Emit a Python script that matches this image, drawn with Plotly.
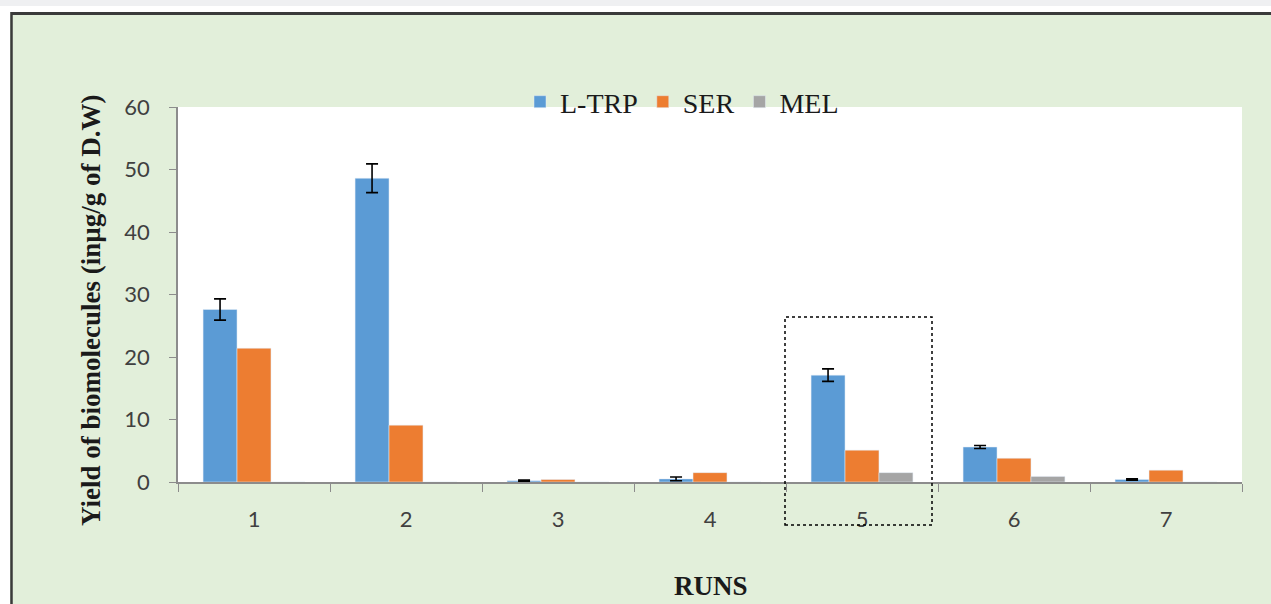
import plotly.graph_objects as go

runs = ["1", "2", "3", "4", "5", "6", "7"]
l_trp = [27.6, 48.6, 0.2, 0.5, 17.1, 5.6, 0.4]
l_trp_err = [1.7, 2.3, 0.1, 0.3, 1.0, 0.25, 0.1]
ser = [21.4, 9.1, 0.4, 1.5, 5.1, 3.8, 1.9]
mel = [0.0, 0.0, 0.0, 0.0, 1.5, 0.9, 0.0]

y_ticks = [0, 10, 20, 30, 40, 50, 60]

W, H = 1271, 604
L, R, T, B = 178, 29, 107, 122
pw, ph = W - L - R, H - T - B

def px(x):
    return (x - L) / pw

def py(y):
    return (H - B - y) / ph

SERIF = "Liberation Serif, Times New Roman, serif"
SANS = "Lato, Liberation Sans, sans-serif"

fig = go.Figure()
fig.add_trace(go.Bar(name="L-TRP", x=runs, y=l_trp, marker_color="#5b9bd5",
                     error_y=dict(type="data", array=l_trp_err, color="black",
                                  thickness=1.6, width=6)))
fig.add_trace(go.Bar(name="SER", x=runs, y=ser, marker_color="#ed7d31"))
fig.add_trace(go.Bar(name="MEL", x=runs, y=mel, marker_color="#a5a5a5"))

shapes = [
    dict(type="rect", xref="paper", yref="paper", x0=px(-5), x1=px(W + 5), y0=py(12), y1=py(-5),
         fillcolor="white", line_width=0, layer="below"),
    dict(type="rect", xref="paper", yref="paper", x0=px(-5), x1=px(W + 5), y0=py(6), y1=py(-5),
         fillcolor="#eff0f2", line_width=0, layer="below"),
    dict(type="rect", xref="paper", yref="paper", x0=px(-5), x1=px(10), y0=py(H + 5), y1=py(12),
         fillcolor="white", line_width=0, layer="below"),
    dict(type="line", xref="paper", yref="paper", x0=px(11.5), x1=px(W + 5), y0=py(13.5), y1=py(13.5),
         line=dict(color="#3a3a3a", width=3), layer="below"),
    dict(type="line", xref="paper", yref="paper", x0=px(11.5), x1=px(11.5), y0=py(12), y1=py(H + 5),
         line=dict(color="#3a3a3a", width=2.5), layer="below"),
    dict(type="rect", xref="x domain", yref="y domain", x0=px(785), x1=px(932), y0=py(525), y1=py(317),
         line=dict(color="black", width=1.5, dash="dot"), fillcolor="rgba(0,0,0,0)", layer="above"),
]

fig.update_layout(
    width=W, height=H, autosize=False,
    margin=dict(l=L, r=R, t=T, b=B, pad=0),
    paper_bgcolor="#e2efda",
    plot_bgcolor="white",
    barmode="group",
    bargap=0.33,
    bargroupgap=0,
    showlegend=True,
    legend=dict(orientation="h", x=px(520), xanchor="left", y=py(102), yanchor="middle",
                bgcolor="rgba(0,0,0,0)", font=dict(family=SERIF, size=28, color="#1a1a1a"),
                itemwidth=30, tracegroupgap=0),
    shapes=shapes,
    font=dict(family=SANS, color="#404040"),
    annotations=[
        dict(text="<b>Yield of biomolecules (inµg/g of D.W)</b>", xref="paper", yref="paper",
             x=px(91), y=py(310), textangle=-90, showarrow=False, xanchor="center", yanchor="middle",
             font=dict(family=SERIF, size=27, color="#1a1a1a")),
        dict(text="<b>RUNS</b>", xref="paper", yref="paper", x=px(711), y=py(586), showarrow=False,
             xanchor="center", yanchor="middle",
             font=dict(family=SERIF, size=27, color="#1a1a1a")),
    ],
)

fig.update_xaxes(type="category", showline=True, linecolor="#8c8c8c", linewidth=1.5,
                 ticks="outside", ticklen=8, tickcolor="#8c8c8c", tickwidth=1,
                 tickson="boundaries", ticklabelstandoff=17, showgrid=False, zeroline=False,
                 tickfont=dict(family=SANS, size=22, color="#404040"))
fig.update_yaxes(range=[0, 60], tickvals=y_ticks, showline=True, linecolor="#8c8c8c", linewidth=1.5,
                 ticks="outside", ticklen=7, tickcolor="#8c8c8c", tickwidth=1,
                 ticklabelstandoff=15, showgrid=False, zeroline=False,
                 tickfont=dict(family=SANS, size=22, color="#404040"))

fig.write_html("out.html", config={"displayModeBar": False},
               post_script="document.body.style.margin='0';document.body.style.overflow='hidden';")
